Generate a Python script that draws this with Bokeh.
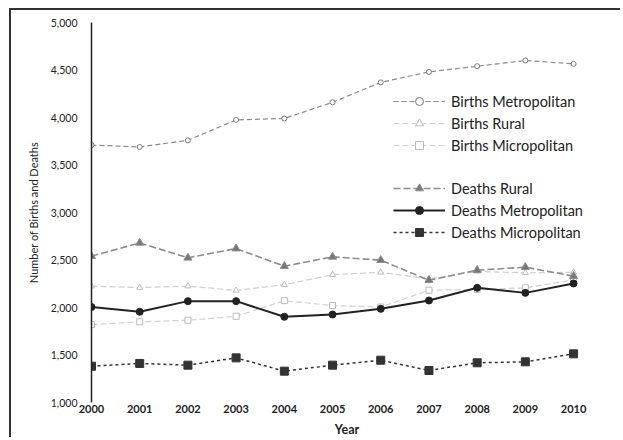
from bokeh.plotting import figure
from bokeh.models import Range1d, Legend, LegendItem, FixedTicker, NumeralTickFormatter
from bokeh.embed import file_html
from bokeh.resources import INLINE

years = [2000, 2001, 2002, 2003, 2004, 2005, 2006, 2007, 2008, 2009, 2010]
births_metropolitan = [3710, 3690, 3760, 3975, 3990, 4160, 4370, 4480, 4540, 4600, 4565]
births_rural = [2225, 2210, 2225, 2180, 2240, 2345, 2370, 2300, 2380, 2365, 2370]
births_micropolitan = [1820, 1850, 1866, 1908, 2072, 2020, 2005, 2182, 2190, 2207, 2290]
deaths_rural = [2540, 2680, 2523, 2620, 2435, 2533, 2498, 2287, 2393, 2424, 2330]
deaths_metropolitan = [2005, 1955, 2067, 2067, 1902, 1926, 1986, 2074, 2207, 2154, 2253]
deaths_micropolitan = [1382, 1411, 1393, 1470, 1330, 1393, 1445, 1337, 1418, 1428, 1512]
y_ticks = [1000, 1500, 2000, 2500, 3000, 3500, 4000, 4500, 5000]

FONT = "Lato"

p = figure(width=611, height=429, output_backend="svg", toolbar_location=None,
           x_range=Range1d(2000, 2010.6), y_range=Range1d(1000, 5000),
           min_border_left=80, min_border_right=20, min_border_top=12, min_border_bottom=37)
p.styles = {"margin-left": "9px", "margin-top": "8px",
            "border-left": "2.5px solid #333", "border-top": "2.5px solid #333"}
p.outline_line_color = None
p.grid.grid_line_color = None
p.background_fill_color = "white"
p.border_fill_color = "white"

# y axis
p.yaxis.ticker = FixedTicker(ticks=y_ticks)
p.yaxis.formatter = NumeralTickFormatter(format="0,0")
p.yaxis.axis_line_color = "#222"
p.yaxis.axis_line_width = 1.5
p.yaxis.major_tick_line_color = None
p.yaxis.minor_tick_line_color = None
p.yaxis.major_label_text_font = FONT
p.yaxis.major_label_text_font_size = "10.5px"
p.yaxis.major_label_text_color = "#222"
p.yaxis.major_label_standoff = 8
p.yaxis.axis_label = "Number of Births and Deaths"
p.yaxis.axis_label_text_font = FONT
p.yaxis.axis_label_text_font_style = "normal"
p.yaxis.axis_label_text_font_size = "11px"
p.yaxis.axis_label_text_color = "#222"
p.yaxis.axis_label_standoff = 8

# x axis
p.xaxis.ticker = FixedTicker(ticks=years)
p.xaxis.axis_line_color = None
p.xaxis.major_tick_line_color = None
p.xaxis.minor_tick_line_color = None
p.xaxis.major_tick_out = 0
p.xaxis.major_tick_in = 0
p.xaxis.major_label_text_font = FONT
p.xaxis.major_label_text_font_style = "bold"
p.xaxis.major_label_text_font_size = "11px"
p.xaxis.major_label_text_color = "#222"
p.xaxis.major_label_standoff = 2
p.xaxis.axis_label = "Year"
p.xaxis.axis_label_text_font = FONT
p.xaxis.axis_label_text_font_style = "bold"
p.xaxis.axis_label_text_font_size = "12.5px"
p.xaxis.axis_label_text_color = "#222"
p.xaxis.axis_label_standoff = 6

def series(vals, color, dash, width, marker, msize, fill, mline=None):
    l = p.line(years, vals, line_color=color, line_dash=dash, line_width=width)
    s = p.scatter(years, vals, marker=marker, size=msize, line_color=mline or color,
                  fill_color=fill, line_width=1)
    return [l, s]

r_bm = series(births_metropolitan, "#8a8a8a", "5 3", 1.2, "circle", 5, "white", "#777")
r_br = series(births_rural, "#cfcfcf", "6 3", 1.2, "triangle", 6, "white", "#bbb")
r_bmi = series(births_micropolitan, "#d2d2d2", "6 3", 1.2, "square", 6, "white", "#bbb")
r_dr = series(deaths_rural, "#8c8c8c", "7 3", 1.6, "triangle", 8, "#777")
r_dm = series(deaths_metropolitan, "#222222", "solid", 2, "circle", 7, "#222")
r_dmi = series(deaths_micropolitan, "#333333", "3 3", 1.5, "square", 8, "#333")

def make_legend(items, loc):
    lg = Legend(items=items, location=loc, border_line_color=None,
                background_fill_alpha=0, padding=0, margin=0, spacing=2,
                glyph_width=52, glyph_height=20, label_height=20,
                label_standoff=6, label_text_font=FONT, label_text_font_size="14.5px",
                label_text_color="#222")
    p.add_layout(lg)

make_legend([LegendItem(label="Births Metropolitan", renderers=r_bm),
             LegendItem(label="Births Rural", renderers=r_br),
             LegendItem(label="Births Micropolitan", renderers=r_bmi)], (302, 247))
make_legend([LegendItem(label="Deaths Rural", renderers=r_dr),
             LegendItem(label="Deaths Metropolitan", renderers=r_dm),
             LegendItem(label="Deaths Micropolitan", renderers=r_dmi)], (302, 160))

open("out.html", "w").write(file_html(p, INLINE))
